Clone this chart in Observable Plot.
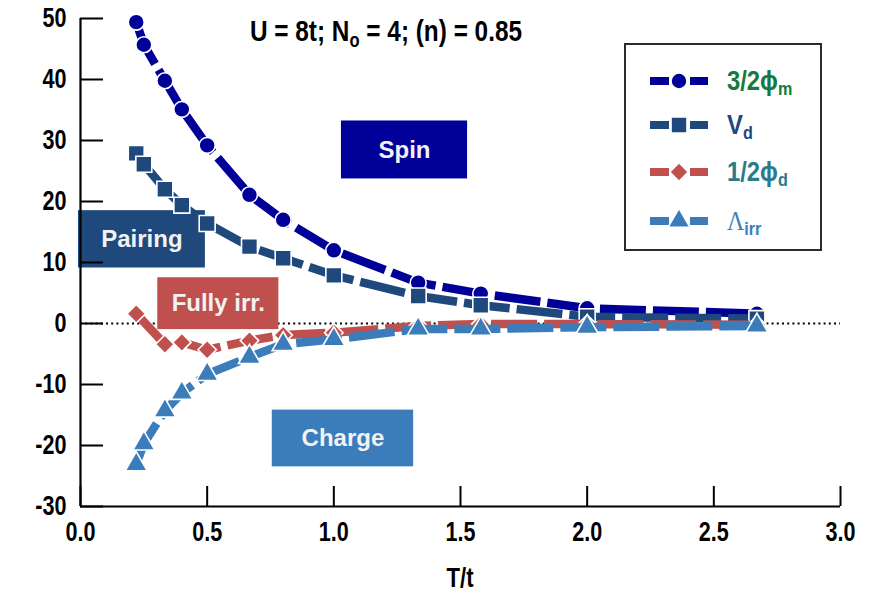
<!DOCTYPE html>
<html><head><meta charset="utf-8">
<script src="https://cdn.jsdelivr.net/npm/d3@7"></script>
<script src="https://cdn.jsdelivr.net/npm/@observablehq/plot@0.6"></script>
<style>
body{margin:0;background:#fff;}
#wrap{position:relative;width:872px;height:593px;overflow:hidden;}
.nar{font-family:"Liberation Sans",Arial,sans-serif;font-weight:bold;}
.ov{position:absolute;white-space:nowrap;line-height:1;}
sub{font-size:0.68em;vertical-align:-0.28em;line-height:0;}
</style></head><body><div id="wrap"></div>
<script>
// ---- data ----
const T      = [0.22, 0.25, 0.333, 0.4, 0.5, 0.667, 0.8, 1.0, 1.333, 1.58, 2.0, 2.67];
const phiM   = [49.4, 45.7, 39.8, 35.1, 29.2, 21.1, 17.0, 12.0, 6.7, 4.9, 2.5, 1.6];
const Vd     = [27.9, 26.1, 22.0, 19.4, 16.4, 12.6, 10.7, 7.9, 4.5, 3.0, 1.1, 0.8];
const Tphi   = [0.22, 0.333, 0.4, 0.5, 0.667, 0.8, 1.0, 1.333, 1.58, 2.0, 2.67];
const phiD   = [1.6, -3.4, -3.1, -4.3, -2.8, -1.9, -1.5, -0.4, -0.1, -0.1, -0.2];
const Lirr   = [-23.1, -19.7, -14.3, -11.4, -8.3, -5.5, -3.4, -2.6, -0.9, -0.9, -0.6, -0.4];
const seriesNames = ["3/2ϕm", "Vd", "1/2ϕd", "Λirr"];
const xTicks = [0, 0.5, 1.0, 1.5, 2.0, 2.5, 3.0];
const yTicks = [-30, -20, -10, 0, 10, 20, 30, 40, 50];
const xDomain = [0, 3];
const yDomain = [-30, 50];
const boxLabels = ["Spin", "Pairing", "Fully irr.", "Charge"];
const boxX1 = [1.03, -0.008, 0.305, 0.757];
const boxX2 = [1.528, 0.493, 0.783, 1.315];
const boxY1 = [23.7, 9.1, -1.0, -23.5];
const boxY2 = [33.2, 18.5, 7.5, -14.2];

// ---- styling ----
const colors = ["#000099", "#1F497D", "#C0504D", "#3B7DBB"];
const symbols = ["circle", "square", "diamond2", "triangle"];
const radii = [8, 9, 8.3, 8.2];
const labelColors = ["#17793B", "#1F497D", "#2A7B8C", "#3B7DBB"];
const boxColors = ["#000099", "#1F497D", "#C0504D", "#3B7DBB"];
const fontFam = '"Liberation Sans",Arial,sans-serif';

const series = [
  T.map((x, i) => ({x, y: phiM[i]})),
  T.map((x, i) => ({x, y: Vd[i]})),
  Tphi.map((x, i) => ({x, y: phiD[i]})),
  T.map((x, i) => ({x, y: Lirr[i]}))
];
const boxes = boxLabels.map((label, i) => ({label, x1: boxX1[i], x2: boxX2[i], y1: boxY1[i], y2: boxY2[i], fill: boxColors[i]}));

const seriesMarks = series.flatMap((data, i) => [
  Plot.line(data, {x: "x", y: "y", stroke: colors[i], strokeWidth: 8.5, strokeDasharray: "46,7", strokeLinecap: "butt", strokeLinejoin: "round"}),
  Plot.dot(data, {x: "x", y: "y", symbol: symbols[i], r: radii[i], fill: colors[i], stroke: "white", strokeWidth: 1.6})
]);

const chart = Plot.plot({
  width: 872, height: 593,
  marginLeft: 80, marginRight: 32, marginTop: 18, marginBottom: 87,
  x: {domain: xDomain, ticks: xTicks, tickFormat: d3.format(".1f")},
  y: {domain: yDomain, ticks: yTicks},
  style: {fontFamily: fontFam, fontWeight: "bold", fontSize: "27px", color: "#000", background: "white", overflow: "visible"},
  marks: [
    Plot.ruleY([0], {stroke: "#000", strokeWidth: 2.2, strokeDasharray: "2,3.2"}),
    Plot.rect(boxes, {x1: "x1", x2: "x2", y1: "y1", y2: "y2", fill: "fill"}),
    Plot.text(boxes, {x: d => (d.x1 + d.x2) / 2, y: d => (d.y1 + d.y2) / 2, text: "label", fill: "#F2F2F2", fontSize: 24, fontWeight: "bold", fontFamily: fontFam}),
    ...seriesMarks,
    Plot.axisY({ticks: yTicks, tickSize: -23, tickPadding: 37, strokeWidth: 2, label: null, fontSize: 27, tickFormat: d => `${d}`}),
    Plot.axisX({ticks: xTicks, tickSize: -20, tickPadding: 35, strokeWidth: 2, label: null, tickFormat: d3.format(".1f"), fontSize: 27}),
    Plot.ruleX([xDomain[0]], {stroke: "#000", strokeWidth: 2.2}),
    Plot.ruleY([yDomain[0]], {stroke: "#000", strokeWidth: 2.2})
  ]
});

const wrap = document.getElementById("wrap");
wrap.appendChild(chart);

// condense tick labels (narrow bold look)
chart.querySelectorAll("g[aria-label$='tick label'] text, text[aria-label$='tick label']").forEach(t => {
  const w = t.getComputedTextLength();
  t.setAttribute("textLength", (w * 0.8).toFixed(1));
  t.setAttribute("lengthAdjust", "spacingAndGlyphs");
});

// title
const title = document.createElement("div");
title.className = "ov nar";
title.style.cssText = "left:386px;top:17px;transform:translateX(-50%) scaleX(0.84);font-size:29px;color:#000;";
title.innerHTML = "U = 8t; N<sub>o</sub> = 4; (n) = 0.85";
wrap.appendChild(title);

// x label
const xl = document.createElement("div");
xl.className = "ov nar";
xl.style.cssText = "left:460px;top:565px;transform:translateX(-50%) scaleX(0.82);font-size:27px;color:#000;";
xl.textContent = "T/t";
wrap.appendChild(xl);

// legend
const leg = document.createElement("div");
leg.style.cssText = "position:absolute;left:624px;top:43px;width:194px;height:204px;border:2px solid #2b2b2b;background:#fff;";
wrap.appendChild(leg);
const rowY = [36, 80, 127, 176];
const legendHTML = [
  '3/2ϕ<sub>m</sub>', 'V<sub>d</sub>', '1/2ϕ<sub>d</sub>', '<span style="font-family:\'Liberation Serif\',serif;font-weight:normal">Λ</span><sub>irr</sub>'
];
seriesNames.forEach((name, i) => {
  const sw = document.createElementNS("http://www.w3.org/2000/svg", "svg");
  sw.setAttribute("width", 60); sw.setAttribute("height", 24);
  sw.style.cssText = `position:absolute;left:23px;top:${rowY[i] - 12}px;overflow:visible`;
  sw.innerHTML = `<line x1="1" y1="12" x2="59" y2="12" stroke="${colors[i]}" stroke-width="8" stroke-dasharray="19,40"/>` +
    `<line x1="41" y1="12" x2="59" y2="12" stroke="${colors[i]}" stroke-width="8"/>`;
  const sym = d3.symbol(i === 0 ? d3.symbolCircle : i === 1 ? d3.symbolSquare : i === 2 ? d3.symbolDiamond2 : d3.symbolTriangle, Math.PI * radii[i] * radii[i]);
  sw.innerHTML += `<path transform="translate(30,12)" d="${sym()}" fill="${colors[i]}" stroke="white" stroke-width="1.6"/>`;
  leg.appendChild(sw);
  const t = document.createElement("div");
  t.className = "ov nar";
  t.style.cssText = `left:101px;top:${rowY[i] - 14}px;font-size:28px;color:${labelColors[i]};transform:scaleX(0.85);transform-origin:left center;`;
  t.innerHTML = legendHTML[i];
  leg.appendChild(t);
});
</script></body></html>
